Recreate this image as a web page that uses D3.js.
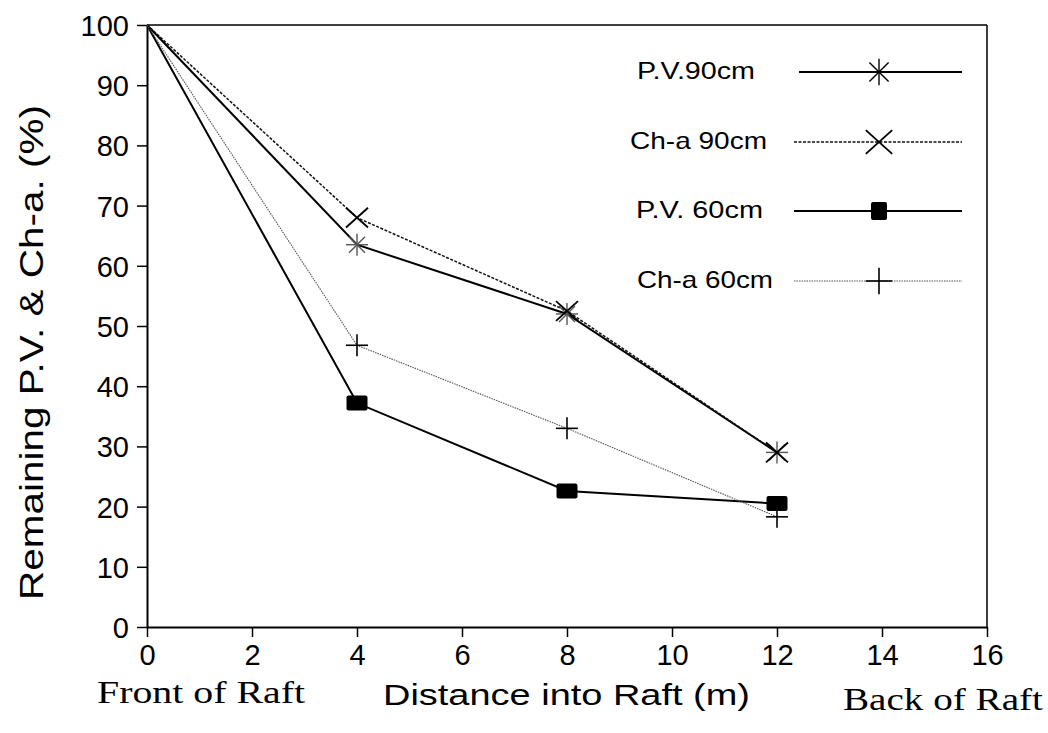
<!DOCTYPE html>
<html>
<head>
<meta charset="utf-8">
<script src="https://cdn.jsdelivr.net/npm/d3@7"></script>
<style>
  body { margin: 0; background: #fff; }
</style>
</head>
<body>
<div id="chart"></div>
<script>
const width = 1048;
const height = 733;

// data
const distances = [0, 4, 8, 12];
const pv90 = [100, 63.5, 52, 29];
const cha90 = [100, 68, 52.5, 29];
const pv60 = [100, 37.2, 22.6, 20.5];
const cha60 = [100, 46.8, 33, 18.3];

const xTicks = [0, 2, 4, 6, 8, 10, 12, 14, 16];
const yTicks = [0, 10, 20, 30, 40, 50, 60, 70, 80, 90, 100];

const seriesNames = ['P.V.90cm', 'Ch-a 90cm', 'P.V. 60cm', 'Ch-a 60cm'];
const seriesValues = [pv90, cha90, pv60, cha60];

const margin = {top: 25, right: 61, bottom: 106, left: 147};
const sans = '"Liberation Sans", Arial, Helvetica, sans-serif';
const serif = '"Liberation Serif", "DejaVu Serif", serif';

buildChart();

function buildChart() {
    const svg = d3.select('#chart')
        .append('svg')
        .attr('width', width)
        .attr('height', height)
        .style('font-family', sans);

    const x = d3.scaleLinear().domain([0, 16]).range([margin.left, width - margin.right]);
    const y = d3.scaleLinear().domain([0, 100]).range([height - margin.bottom, margin.top]);

    // frame top / right
    svg.append('line')
        .attr('x1', x(0)).attr('x2', x(16))
        .attr('y1', y(100)).attr('y2', y(100))
        .attr('stroke', '#000').attr('stroke-width', 1.5);
    svg.append('line')
        .attr('x1', x(16)).attr('x2', x(16))
        .attr('y1', y(100)).attr('y2', y(0))
        .attr('stroke', '#000').attr('stroke-width', 1.5);

    // axes
    const xAxis = svg.append('g')
        .attr('transform', `translate(0, ${y(0)})`)
        .call(d3.axisBottom(x).tickValues(xTicks).tickSize(10).tickPadding(7).tickSizeOuter(0));
    const yAxis = svg.append('g')
        .attr('transform', `translate(${x(0)}, 0)`)
        .call(d3.axisLeft(y).tickValues(yTicks).tickSize(10).tickPadding(8).tickSizeOuter(0));

    [xAxis, yAxis].forEach((g) => {
        g.attr('font-family', null).attr('font-size', null);
        g.select('.domain').attr('stroke', '#000').attr('stroke-width', 2);
        g.selectAll('.tick line').attr('stroke', '#000').attr('stroke-width', 1.5);
        g.selectAll('.tick text')
            .style('font-family', sans)
            .style('font-size', '29px')
            .attr('fill', '#000');
    });
    yAxis.selectAll('.tick text').attr('dy', '0.36em');

    // series lines
    const line = d3.line()
        .x((d, i) => x(distances[i]))
        .y((d) => y(d));

    const styles = [
        {stroke: '#000', width: 2, dash: null},
        {stroke: '#111', width: 1.5, dash: '3,1.5'},
        {stroke: '#000', width: 2, dash: null},
        {stroke: '#555', width: 1.1, dash: '1.5,1'}
    ];
    const markers = ['asterisk', 'cross', 'square', 'plus'];

    seriesValues.forEach((vals, k) => {
        svg.append('path')
            .datum(vals)
            .attr('d', line)
            .attr('fill', 'none')
            .attr('stroke', styles[k].stroke)
            .attr('stroke-width', styles[k].width)
            .attr('stroke-dasharray', styles[k].dash);
    });

    seriesValues.forEach((vals, k) => {
        vals.forEach((v, i) => {
            if (i === 0) return;
            drawMarker(svg, markers[k], x(distances[i]), y(v), false);
        });
    });

    // legend
    const legendY = [72, 142, 211, 281];
    const legendLabelX = [637, 630, 636, 637];
    const legendLabelW = [118, 137, 127, 136];
    seriesNames.forEach((name, k) => {
        svg.append('text')
            .attr('x', legendLabelX[k])
            .attr('y', legendY[k] - 1)
            .attr('dy', '0.35em')
            .style('font-size', '24px')
            .attr('textLength', legendLabelW[k])
            .attr('lengthAdjust', 'spacingAndGlyphs')
            .text(name);
        svg.append('line')
            .attr('x1', k === 0 ? 799 : 794).attr('x2', 962)
            .attr('y1', legendY[k]).attr('y2', legendY[k])
            .attr('stroke', styles[k].stroke)
            .attr('stroke-width', styles[k].width)
            .attr('stroke-dasharray', styles[k].dash);
        drawMarker(svg, markers[k], 879, legendY[k], true);
    });

    // axis titles
    svg.append('text')
        .attr('x', 383)
        .attr('y', 705)
        .style('font-size', '30px')
        .attr('textLength', 367)
        .attr('lengthAdjust', 'spacingAndGlyphs')
        .text('Distance into Raft (m)');

    svg.append('text')
        .attr('transform', `translate(43, 600) rotate(-90)`)
        .style('font-size', '33px')
        .attr('textLength', 495)
        .attr('lengthAdjust', 'spacingAndGlyphs')
        .text('Remaining P.V. & Ch-a. (%)');

    svg.append('text')
        .attr('x', 97)
        .attr('y', 703)
        .style('font-family', serif)
        .style('font-size', '32px')
        .attr('textLength', 208)
        .attr('lengthAdjust', 'spacingAndGlyphs')
        .text('Front of Raft');

    svg.append('text')
        .attr('x', 843)
        .attr('y', 710)
        .style('font-family', serif)
        .style('font-size', '32px')
        .attr('textLength', 200)
        .attr('lengthAdjust', 'spacingAndGlyphs')
        .text('Back of Raft');
}

function drawMarker(svg, type, cx, cy, inLegend) {
    const g = svg.append('g').attr('transform', `translate(${cx}, ${cy})`);
    const s = inLegend ? 1.2 : 1;
    if (type === 'asterisk') {
        const r = 11 * s;
        const d = 8 * s;
        [[0, -r, 0, r], [-r, 0, r, 0], [-d, -d, d, d], [-d, d, d, -d]].forEach((p) => {
            g.append('line')
                .attr('x1', p[0]).attr('y1', p[1]).attr('x2', p[2]).attr('y2', p[3])
                .attr('stroke', inLegend ? '#000' : '#555')
                .attr('stroke-width', 1.4);
        });
    } else if (type === 'cross') {
        const r = 11 * s;
        [[-r, -r * 0.9, r, r * 0.9], [-r, r * 0.9, r, -r * 0.9]].forEach((p) => {
            g.append('line')
                .attr('x1', p[0]).attr('y1', p[1]).attr('x2', p[2]).attr('y2', p[3])
                .attr('stroke', '#000')
                .attr('stroke-width', 1.8);
        });
    } else if (type === 'square') {
        const w = inLegend ? 16 : 21;
        const h = inLegend ? 18 : 15;
        g.append('rect')
            .attr('x', -w / 2).attr('y', -h / 2)
            .attr('width', w).attr('height', h)
            .attr('rx', 2)
            .attr('fill', '#000');
    } else if (type === 'plus') {
        const r = 11 * s;
        [[0, -r, 0, r], [-r, 0, r, 0]].forEach((p) => {
            g.append('line')
                .attr('x1', p[0]).attr('y1', p[1]).attr('x2', p[2]).attr('y2', p[3])
                .attr('stroke', '#000')
                .attr('stroke-width', 1.6);
        });
    }
}
</script>
</body>
</html>
